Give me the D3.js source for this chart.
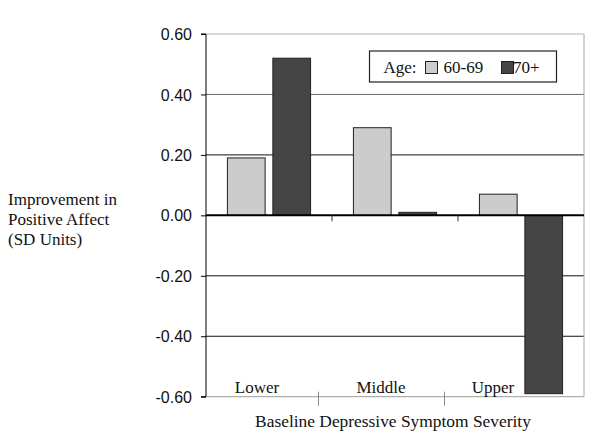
<!DOCTYPE html>
<html><head><meta charset="utf-8">
<script src="https://cdn.jsdelivr.net/npm/d3@7"></script>
<style>body{margin:0;background:#fff}svg{display:block}</style>
</head><body>
<script>
const categories = ["Lower", "Middle", "Upper"];
const seriesNames = ["60-69", "70+"];
const values6069 = [0.19, 0.29, 0.07];
const values70 = [0.52, 0.01, -0.59];
const yTicks = [0.6, 0.4, 0.2, 0, -0.2, -0.4, -0.6];
const yTickLabels = ["0.60", "0.40", "0.20", "0.00", "-0.20", "-0.40", "-0.60"];
const yTitleLines = ["Improvement in", "Positive Affect", "(SD Units)"];
const xTitle = "Baseline Depressive Symptom Severity";
const legendTitle = "Age:";

const W = 600, H = 435;
const L = 206, R = 584, T = 34, B = 396.7;
const colors = ["#cccccc", "#454545"];
const catLabelDx = [-12, -14, -28];
const serif = "'Liberation Serif','Times New Roman',serif";
const sans = "'Liberation Sans',Arial,sans-serif";

const svg = d3.select("body").append("svg").attr("width", W).attr("height", H);

const x = d3.scaleBand().domain(categories).range([L, R]).padding(0);
const bw = x.bandwidth();
const x1 = d3.scaleBand().domain(seriesNames).range([bw * 0.17, bw * 0.83]).paddingInner(0.17).paddingOuter(0);
const y = d3.scaleLinear().domain([-0.6, 0.6]).range([B, T]);

// gridlines
const gridColor = v => v === 0.6 ? "#b5b5b5" : (v === 0.4 ? "#6a6a6a" : (v === -0.6 ? "#9a9a9a" : "#111"));
svg.append("g").selectAll("line").data(yTicks.filter(v => v !== 0)).join("line")
  .attr("x1", L).attr("x2", R).attr("y1", d => y(d)).attr("y2", d => y(d))
  .attr("stroke", gridColor).attr("stroke-width", 1);
// right border
svg.append("line").attr("x1", R).attr("x2", R).attr("y1", y(0.6)).attr("y2", y(-0.6))
  .attr("stroke", "#a8a8a8").attr("stroke-width", 1);

// bars
const data = [];
categories.forEach((c, i) => {
  data.push({c, s: seriesNames[0], v: values6069[i]});
  data.push({c, s: seriesNames[1], v: values70[i]});
});
svg.append("g").selectAll("rect").data(data).join("rect")
  .attr("x", d => x(d.c) + x1(d.s))
  .attr("width", x1.bandwidth())
  .attr("y", d => y(Math.max(0, d.v)))
  .attr("height", d => Math.abs(y(d.v) - y(0)))
  .attr("fill", d => colors[seriesNames.indexOf(d.s)])
  .attr("stroke", "#222").attr("stroke-width", 1);

// zero line with ticks
svg.append("line").attr("x1", L).attr("x2", R).attr("y1", y(0)).attr("y2", y(0))
  .attr("stroke", "#000").attr("stroke-width", 2);
svg.append("g").selectAll("line").data(categories.slice(1)).join("line")
  .attr("x1", d => x(d)).attr("x2", d => x(d))
  .attr("y1", y(0)).attr("y2", y(0) + 6).attr("stroke", "#333").attr("stroke-width", 1);

// bottom axis ticks (offset)
svg.append("g").selectAll("line").data(categories.slice(1)).join("line")
  .attr("x1", d => x(d) - 13.5).attr("x2", d => x(d) - 13.5)
  .attr("y1", B - 5).attr("y2", B + 9).attr("stroke", "#888").attr("stroke-width", 1);

// category labels
svg.append("g").selectAll("text").data(categories).join("text")
  .attr("x", (d, i) => x(d) + bw / 2 + catLabelDx[i])
  .attr("y", B - 4)
  .attr("text-anchor", "middle")
  .attr("font-family", serif).attr("font-size", 17).attr("fill", "#111")
  .text(d => d);

// y axis
const yAxis = d3.axisLeft(y).tickValues(yTicks).tickSize(5).tickPadding(9)
  .tickFormat((d, i) => yTickLabels[i]);
const ga = svg.append("g").attr("transform", `translate(${L},0)`).call(yAxis);
ga.select(".domain").attr("stroke", "#000").attr("d", `M-5,${y(0.6)}H0V${y(-0.6)}H-5`);
ga.selectAll(".tick line").attr("stroke", "#000");
ga.selectAll(".tick text").attr("font-family", sans).attr("font-size", 16).attr("fill", "#111").attr("dy", "0.35em");

// y title
svg.append("g").selectAll("text").data(yTitleLines).join("text")
  .attr("x", 8).attr("y", (d, i) => 205 + i * 20)
  .attr("font-family", serif).attr("font-size", 17).attr("fill", "#111")
  .text(d => d);

// x title
svg.append("text").attr("x", 393).attr("y", 427).attr("text-anchor", "middle")
  .attr("font-family", serif).attr("font-size", 17.4).attr("fill", "#111").text(xTitle);

// legend
const lg = svg.append("g").attr("transform", "translate(369.5,51)");
lg.append("rect").attr("width", 187).attr("height", 31).attr("fill", "#fff").attr("stroke", "#222").attr("stroke-width", 1.2);
lg.append("text").attr("x", 14).attr("y", 21.5).attr("font-family", serif).attr("font-size", 17).attr("fill", "#111").text(legendTitle);
const items = [{sx: 56, tx: 74}, {sx: 132, tx: 143.5}];
seriesNames.forEach((s, i) => {
  lg.append("rect").attr("x", items[i].sx).attr("y", 10.5).attr("width", 12).attr("height", 12)
    .attr("fill", colors[i]).attr("stroke", "#222").attr("stroke-width", 1);
  lg.append("text").attr("x", items[i].tx).attr("y", 21.5).attr("font-family", serif).attr("font-size", 17).attr("fill", "#111").text(s);
});
</script>
</body></html>
